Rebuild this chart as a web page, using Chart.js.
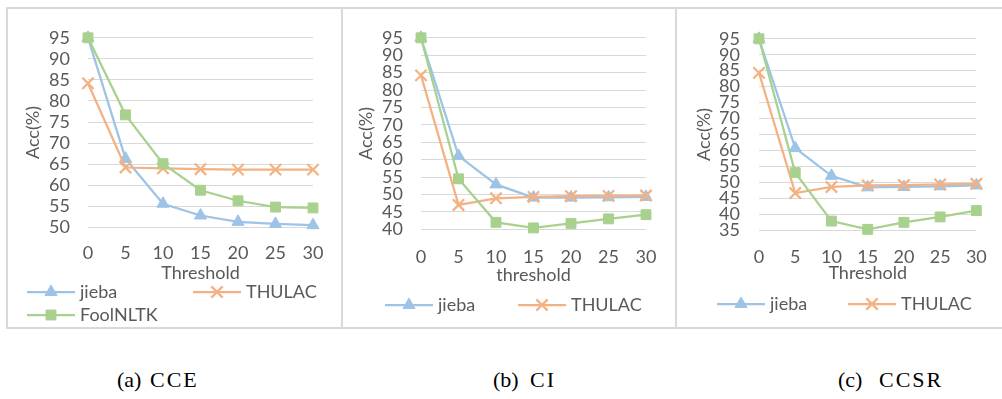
<!DOCTYPE html>
<html>
<head>
<meta charset="utf-8">
<script src="https://cdn.jsdelivr.net/npm/chart.js@4/dist/chart.umd.min.js"></script>
<style>
	html, body { margin: 0; padding: 0; background: #fff; }
	body { width: 1002px; height: 399px; position: relative; overflow: hidden; }
	.panel { position: absolute; top: 7px; height: 322px; box-sizing: border-box; border: 2px solid #d9d9d9; }
	.panel canvas { position: absolute; left: 0; top: 0; }
	.cap { position: absolute; top: 369px; font: 22px "Liberation Serif", "Times New Roman", serif; color: #000; line-height: 1; white-space: pre; }
	.cap.w { letter-spacing: 2px; }
</style>
</head>
<body>
<div class="panel" style="left:6px;width:337px;"><canvas id="cce" width="333" height="318"></canvas></div>
<div class="panel" style="left:341px;width:336px;"><canvas id="ci" width="332" height="318"></canvas></div>
<div class="panel" style="left:675px;width:330px;"><canvas id="ccsr" width="326" height="318"></canvas></div>
<div class="cap" style="left:117px;">(a)</div><div class="cap w" style="left:150px;">CCE</div>
<div class="cap" style="left:493px;">(b)</div><div class="cap w" style="left:530px;">CI</div>
<div class="cap" style="left:838px;">(c)</div><div class="cap w" style="left:879px;">CCSR</div>
<script>
'use strict';

var thresholds = ['0', '5', '10', '15', '20', '25', '30'];
var seriesNames = ['jieba', 'THULAC', 'FoolNLTK'];

var cceJieba = [95, 66.3, 55.6, 52.8, 51.3, 50.8, 50.5];
var cceThulac = [84.2, 64.2, 64.0, 63.8, 63.7, 63.7, 63.7];
var cceFool = [95, 76.7, 65.1, 58.8, 56.3, 54.8, 54.6];

var ciJieba = [95, 61.1, 52.9, 49.1, 49.1, 49.2, 49.3];
var ciThulac = [84.2, 47.0, 48.9, 49.3, 49.5, 49.6, 49.7];
var ciFool = [95, 54.5, 42.0, 40.4, 41.7, 43.0, 44.2];

var ccsrJieba = [95, 60.7, 52.0, 48.4, 48.5, 48.7, 49.0];
var ccsrThulac = [84.3, 46.6, 48.5, 49.0, 49.1, 49.3, 49.5];
var ccsrFool = [95, 53.0, 37.8, 35.2, 37.4, 39.1, 41.1];

var TEXT = '#595959';
var FONT = { family: 'Lato', size: 18 };
var HALF_LINE = 10.8;

// legend drawn like Excel: line with marker in the middle
var lineLegend = {
	id: 'lineLegend',
	afterDraw: function (chart, args, opts) {
		var ctx = chart.ctx;
		for (var i = 0; i < opts.items.length; i++) {
			var it = opts.items[i];
			var ds = chart.data.datasets[it.index];
			ctx.save();
			ctx.strokeStyle = ds.borderColor;
			ctx.lineWidth = ds.borderWidth;
			ctx.beginPath();
			ctx.moveTo(it.x, it.y);
			ctx.lineTo(it.x + 48, it.y);
			ctx.stroke();
			ctx.fillStyle = ds.pointBackgroundColor;
			ctx.strokeStyle = ds.pointBorderColor;
			ctx.lineWidth = ds.pointBorderWidth;
			Chart.helpers.drawPoint(ctx, {
				pointStyle: ds.pointStyle,
				radius: ds.pointRadius,
				borderWidth: ds.pointBorderWidth,
				rotation: 0
			}, it.x + 24, it.y);
			ctx.fillStyle = TEXT;
			ctx.font = FONT.size + 'px ' + FONT.family;
			ctx.textBaseline = 'middle';
			ctx.textAlign = 'left';
			ctx.fillText(ds.label, it.x + 53, it.y);
			ctx.restore();
		}
	}
};

function makeDatasets(jieba, thulac, fool) {
	return [
		{
			label: seriesNames[0], data: jieba, order: 2,
			borderColor: '#9dc3e6', backgroundColor: '#9dc3e6', borderWidth: 2.25,
			pointStyle: 'triangle', pointRadius: 7, pointBackgroundColor: '#9dc3e6',
			pointBorderColor: '#9dc3e6', pointBorderWidth: 1
		},
		{
			label: seriesNames[1], data: thulac, order: 1,
			borderColor: '#f4b183', backgroundColor: '#f4b183', borderWidth: 2.25,
			pointStyle: 'crossRot', pointRadius: 8, pointBackgroundColor: '#f4b183',
			pointBorderColor: '#f4b183', pointBorderWidth: 2.25
		},
		{
			label: seriesNames[2], data: fool, order: 0,
			borderColor: '#a9d18e', backgroundColor: '#a9d18e', borderWidth: 2.25,
			pointStyle: 'rect', pointRadius: 7, pointBackgroundColor: '#a9d18e',
			pointBorderColor: '#a9d18e', pointBorderWidth: 1
		}
	];
}

function makePanel(id, datasets, yMin, xTitle, lay, legendItems) {
	var canvas = document.getElementById(id);
	var padLeft = lay.yTitleX - HALF_LINE;
	var yWidth = lay.left - padLeft;
	var xBottom = lay.xTitleY + HALF_LINE;
	var xHeight = xBottom - lay.bottom;

	var config = {
		type: 'line',
		data: { labels: thresholds, datasets: datasets },
		options: {
			responsive: false,
			animation: false,
			devicePixelRatio: 1,
			layout: {
				padding: {
					left: padLeft,
					right: canvas.width - lay.right,
					top: lay.top,
					bottom: canvas.height - xBottom
				}
			},
			elements: { line: { tension: 0 } },
			datasets: { line: { clip: false } },
			plugins: {
				legend: { display: false },
				tooltip: { enabled: false },
				lineLegend: { items: legendItems }
			},
			scales: {
				x: {
					type: 'category',
					offset: false,
					grid: { display: false, drawTicks: false },
					border: { display: false },
					ticks: {
						color: TEXT, font: FONT, maxRotation: 0, autoSkip: false,
						padding: lay.xLabelY - lay.bottom - HALF_LINE
					},
					title: { display: true, text: xTitle, color: TEXT, font: FONT, padding: 0 },
					afterFit: function (s) { s.height = xHeight; }
				},
				y: {
					min: yMin,
					max: 95,
					grid: { color: '#d9d9d9', lineWidth: 1, drawTicks: false },
					border: { display: false },
					ticks: {
						stepSize: 5, autoSkip: false, color: TEXT, font: FONT,
						padding: lay.left - lay.yLabelRight
					},
					title: { display: true, text: 'Acc(%)', color: TEXT, font: FONT, padding: 0 },
					afterFit: function (s) { s.width = yWidth; }
				}
			}
		},
		plugins: [lineLegend]
	};
	return new Chart(canvas, config);
}

makePanel('cce', makeDatasets(cceJieba, cceThulac, cceFool), 50, 'Threshold',
	{ left: 80, right: 305, top: 24, bottom: 218.3, yTitleX: 25, xTitleY: 264, yLabelRight: 62, xLabelY: 244.3 },
	[{ index: 0, x: 19, y: 283 }, { index: 1, x: 185, y: 283 }, { index: 2, x: 19, y: 306 }]);

makePanel('ci', makeDatasets(ciJieba, ciThulac, ciFool), 40, 'threshold',
	{ left: 78, right: 303, top: 24, bottom: 220.3, yTitleX: 23, xTitleY: 266, yLabelRight: 60, xLabelY: 248 },
	[{ index: 0, x: 42, y: 296 }, { index: 1, x: 175, y: 296 }]);

makePanel('ccsr', makeDatasets(ccsrJieba, ccsrThulac, ccsrFool), 35, 'Threshold',
	{ left: 82, right: 308, top: 24, bottom: 221, yTitleX: 27, xTitleY: 264, yLabelRight: 63, xLabelY: 248 },
	[{ index: 0, x: 40, y: 295 }, { index: 1, x: 171, y: 295 }]);
</script>
</body>
</html>
